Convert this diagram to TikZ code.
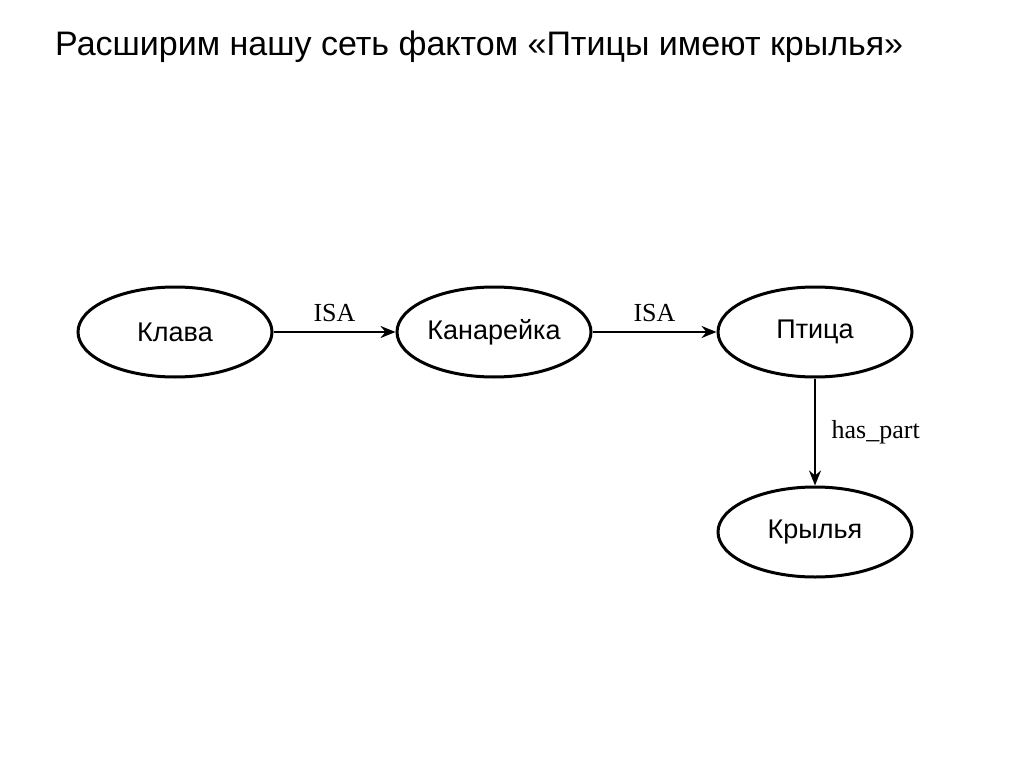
\documentclass[tikz,border=0pt]{standalone}
\usepackage{fontspec}
\setmainfont{Liberation Sans}
\newfontfamily\labelfont{Liberation Serif}
\usetikzlibrary{shapes.geometric}
\usetikzlibrary{arrows.meta}
\begin{document}
\begin{tikzpicture}[x=1pt, y=-1pt,
    concept/.style={ellipse, draw, line width=3pt, minimum width=194pt,
      minimum height=90pt, inner sep=0pt, font=\fontsize{27}{30}\selectfont},
    relation/.style={line width=2.6pt, -{Stealth[length=15pt, width=12pt, inset=5pt]}},
    rellabel/.style={font=\labelfont\fontsize{26}{29}\selectfont}]
\useasboundingbox (0,0) rectangle (1024,767);
\node [anchor=west, inner sep=0pt, font=\fontsize{34}{38}\selectfont] (title) at (55,47)
  {Расширим нашу сеть фактом «Птицы имеют крылья»};
% nodes of the net
\node [concept] (klava) at (175,332) {Клава};
\node [concept] (kanareika) at (494,332) {Канарейка};
\node [concept] (ptica) at (815,332) {Птица};
\node [concept] (krylja) at (815,532) {Крылья};
% relations
\draw [relation] (klava) -- node [rellabel, above=6pt] {ISA} (kanareika);
\draw [relation] (kanareika) -- node [rellabel, above=6pt] {ISA} (ptica);
\draw [relation] (ptica) -- node [rellabel, right=12pt, pos=0.5] {has\_part} (krylja);
\end{tikzpicture}
\end{document}
